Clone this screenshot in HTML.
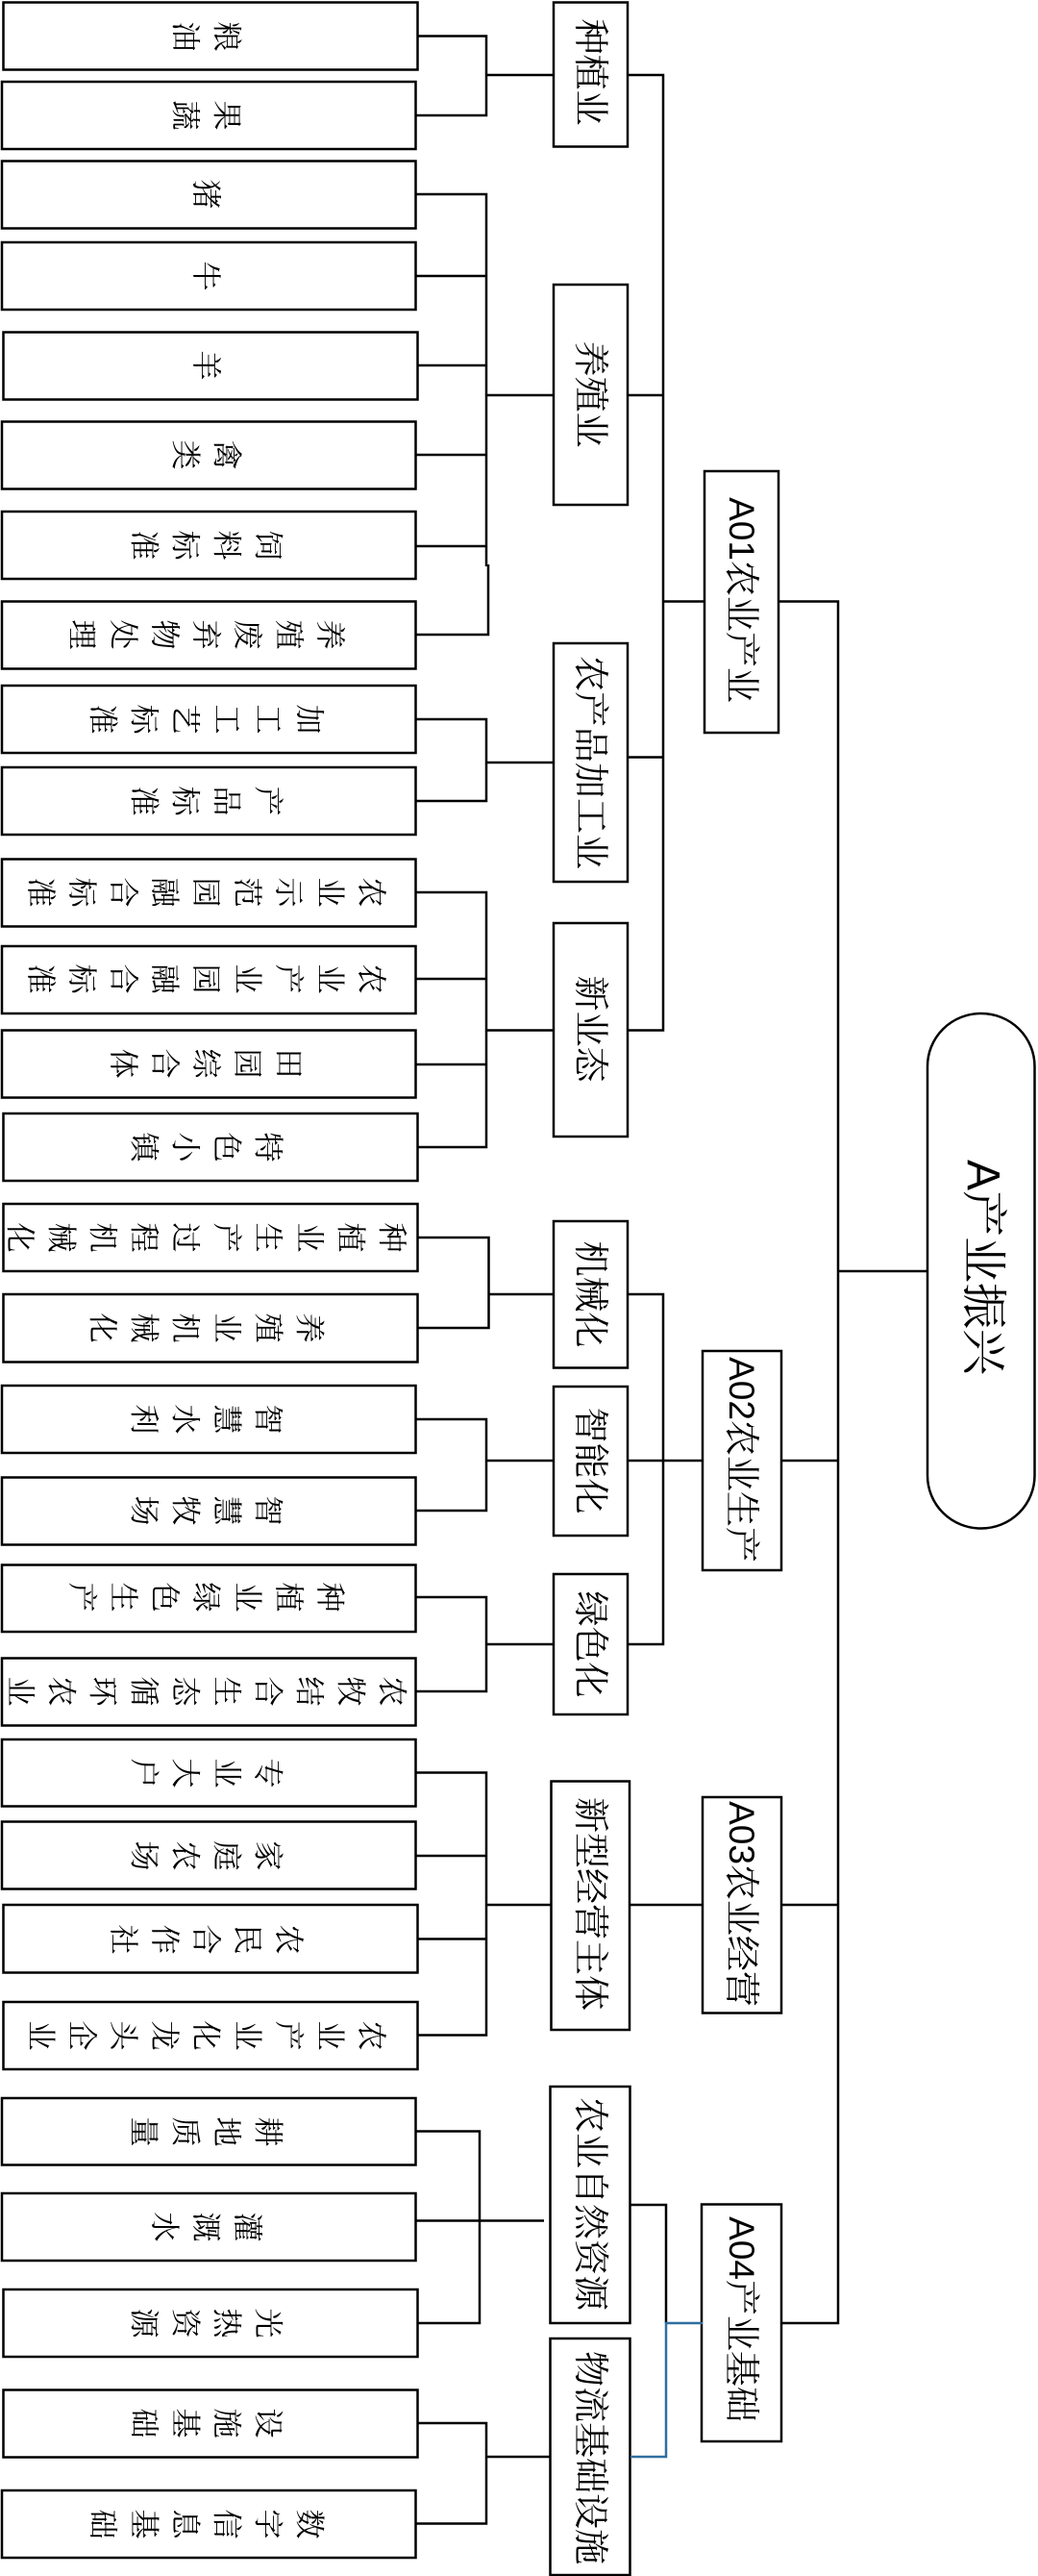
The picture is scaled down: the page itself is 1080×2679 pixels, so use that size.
<!DOCTYPE html>
<html lang="zh-CN">
<head>
<meta charset="utf-8">
<title>A产业振兴</title>
<style>
html,body{margin:0;padding:0;background:#fff}
#c{position:relative;width:1080px;height:2679px;overflow:hidden;background:#fff;font-family:"Liberation Sans","Noto Serif CJK SC",sans-serif;color:#000}
svg{position:absolute;left:0;top:0}
.l,.m,.t,.p{position:absolute;transform:translate(-50%,-50%) rotate(90deg);text-align:center}
.l{left:214px;width:34px;font-size:31px;line-height:43px;word-break:break-all}
.m{left:614px;font-size:37px;line-height:40px;white-space:nowrap}
.t{left:771px;font-size:37px;line-height:40px;white-space:nowrap}
.p{left:1022px;font-size:48px;line-height:54px;white-space:nowrap}
</style>
</head>
<body>
<div id="c">
<svg width="1080" height="2679" viewBox="0 0 1080 2679">
<g fill="#fff" stroke="#000" stroke-width="2.5">
<rect x="3.5" y="2.5" width="431" height="70"/>
<rect x="2" y="85" width="430.500" height="70"/>
<rect x="2" y="167.500" width="430.500" height="70"/>
<rect x="2" y="252" width="430.500" height="70"/>
<rect x="3.500" y="345.500" width="431" height="70"/>
<rect x="2" y="438.500" width="430.500" height="70"/>
<rect x="2" y="532" width="430.500" height="70"/>
<rect x="2" y="625.500" width="430.500" height="70"/>
<rect x="2" y="713" width="430.500" height="70"/>
<rect x="2" y="798" width="430.500" height="70"/>
<rect x="2" y="893.500" width="430.500" height="70"/>
<rect x="2" y="984" width="430.500" height="70"/>
<rect x="2" y="1071.500" width="430.500" height="70"/>
<rect x="3.500" y="1158" width="431" height="70"/>
<rect x="3.500" y="1252" width="431" height="70"/>
<rect x="3.500" y="1346" width="431" height="70.500"/>
<rect x="2" y="1441" width="430.500" height="70"/>
<rect x="2" y="1536.500" width="430.500" height="70"/>
<rect x="2" y="1627.500" width="430.500" height="69.500"/>
<rect x="2" y="1724.500" width="430.500" height="70"/>
<rect x="2" y="1809" width="430.500" height="69.500"/>
<rect x="2" y="1894.500" width="430.500" height="70"/>
<rect x="3.500" y="1981" width="431" height="70.500"/>
<rect x="3.500" y="2082" width="431" height="70"/>
<rect x="2" y="2182" width="430.500" height="69.500"/>
<rect x="2" y="2281" width="430.500" height="70"/>
<rect x="3.500" y="2381" width="431" height="70"/>
<rect x="3.500" y="2485.500" width="431" height="70"/>
<rect x="2" y="2590" width="430.500" height="70"/>
<rect x="576" y="2.500" width="77" height="150"/>
<rect x="576" y="296" width="77" height="229"/>
<rect x="576" y="669" width="77" height="248"/>
<rect x="576" y="960" width="77" height="222"/>
<rect x="576" y="1270" width="77" height="152.500"/>
<rect x="576" y="1442" width="77" height="155"/>
<rect x="576" y="1637" width="77" height="146"/>
<rect x="573.500" y="1852.500" width="81.500" height="258.500"/>
<rect x="572.500" y="2170" width="83" height="246"/>
<rect x="572.500" y="2432" width="83" height="246"/>
<rect x="733" y="490" width="77" height="272"/>
<rect x="731" y="1405" width="82" height="228"/>
<rect x="731" y="1869" width="82" height="224.500"/>
<rect x="730" y="2292.500" width="83" height="246.500"/>
<rect x="965" y="1054" width="111.500" height="535.500" rx="55.500" ry="55"/>
</g>
<g fill="none" stroke="#000" stroke-width="2.5">
<path d="M434 37.500H506V120H433M506 78H576"/>
<path d="M433 202H506V589M433 287H506M434 380H506M433 473H506M433 568H506M506 411H576M508 587V660H433"/>
<path d="M433 748H506V833H433M506 793H576"/>
<path d="M433 928H506V1193H434M433 1018H506M433 1107H506M506 1071.500H576"/>
<path d="M434 1287H508.500V1381H434M508.500 1346H576"/>
<path d="M433 1476H506V1571H433M506 1519H576"/>
<path d="M433 1661H506V1759H433M506 1710H576"/>
<path d="M433 1843.500H506V2116.500H434M433 1930H506M434 2016.500H506M506 1981H573"/>
<path d="M433 2216.500H499V2416H434M433 2309.500H566"/>
<path d="M434 2520H506V2624.500H433M506 2555H572"/>
<path d="M653 78H690V1071.500H653M653 411H690M653 787.500H690M690 625.500H733"/>
<path d="M653 1346H690V1710H653M653 1519H731"/>
<path d="M655 1981H731"/>
<path d="M656 2293H693V2416"/>
<path d="M810 625.500H872V2416H813M813 1519H872M813 1981H872M872 1322H965"/>
</g>
<path d="M731 2416H693V2555H656" fill="none" stroke="#2f6f9f" stroke-width="2.5"/>
</svg>
<div class="l" style="top:37.500px">粮油</div>
<div class="l" style="top:120px">果蔬</div>
<div class="l" style="top:202px">猪</div>
<div class="l" style="top:287px">牛</div>
<div class="l" style="top:380px">羊</div>
<div class="l" style="top:473px">禽类</div>
<div class="l" style="top:567px">饲料标准</div>
<div class="l" style="top:660px">养殖废弃物处理</div>
<div class="l" style="top:748px">加工工艺标准</div>
<div class="l" style="top:833px">产品标准</div>
<div class="l" style="top:928px">农业示范园融合标准</div>
<div class="l" style="top:1018px">农业产业园融合标准</div>
<div class="l" style="top:1106px">田园综合体</div>
<div class="l" style="top:1193px">特色小镇</div>
<div class="l" style="top:1287px">种植业生产过程机械化</div>
<div class="l" style="top:1381px">养殖业机械化</div>
<div class="l" style="top:1476px">智慧水利</div>
<div class="l" style="top:1571px">智慧牧场</div>
<div class="l" style="top:1661px">种植业绿色生产</div>
<div class="l" style="top:1759px">农牧结合生态循环农业</div>
<div class="l" style="top:1843.500px">专业大户</div>
<div class="l" style="top:1930px">家庭农场</div>
<div class="l" style="top:2016.500px">农民合作社</div>
<div class="l" style="top:2116.500px">农业产业化龙头企业</div>
<div class="l" style="top:2216.500px">耕地质量</div>
<div class="l" style="top:2316px">灌溉水</div>
<div class="l" style="top:2416px">光热资源</div>
<div class="l" style="top:2520px">设施基础</div>
<div class="l" style="top:2624.500px">数字信息基础</div>
<div class="m" style="top:75px">种植业</div>
<div class="m" style="top:410px">养殖业</div>
<div class="m" style="top:793px">农产品加工业</div>
<div class="m" style="top:1070px">新业态</div>
<div class="m" style="top:1346px">机械化</div>
<div class="m" style="top:1519px">智能化</div>
<div class="m" style="top:1710px">绿色化</div>
<div class="m" style="top:1980px">新型经营主体</div>
<div class="m" style="top:2292px">农业自然资源</div>
<div class="m" style="top:2556px">物流基础设施</div>
<div class="t" style="top:624px">A01农业产业</div>
<div class="t" style="top:1518px">A02农业生产</div>
<div class="t" style="top:1980px">A03农业经营</div>
<div class="t" style="top:2412px">A04产业基础</div>
<div class="p" style="top:1318px">A产业振兴</div>
</div>
</body>
</html>
